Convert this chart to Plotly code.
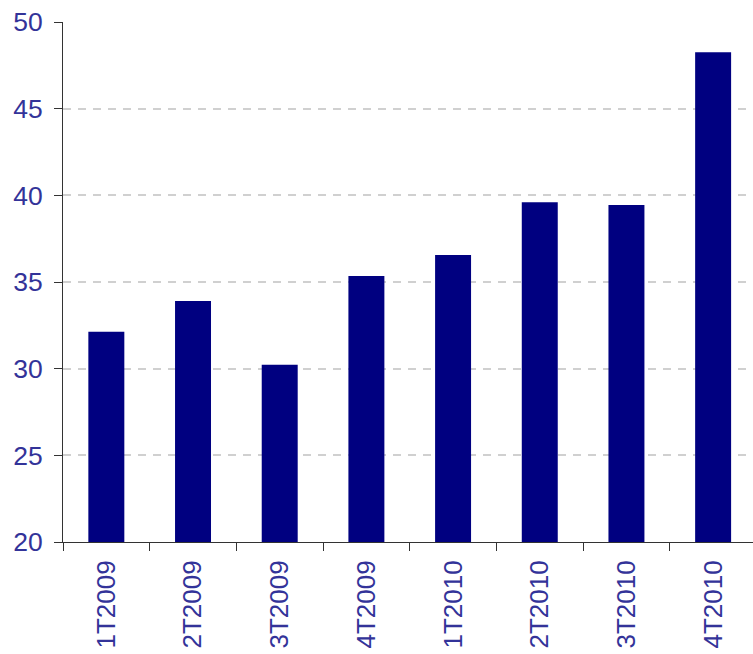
import plotly.graph_objects as go

categories = ["1T2009", "2T2009", "3T2009", "4T2009", "1T2010", "2T2010", "3T2010", "4T2010"]
values = [32.13, 33.91, 30.22, 35.35, 36.56, 39.6, 39.44, 48.25]
y_ticks = [20, 25, 30, 35, 40, 45, 50]

fig = go.Figure(go.Bar(x=categories, y=values, marker=dict(color="#000080", line=dict(width=0))))

yfont = dict(family="Liberation Sans, Arial, sans-serif", size=26.5, color="#333399")
xfont = dict(family="Liberation Sans, Arial, sans-serif", size=26, color="#333399")

fig.update_layout(
    width=753, height=654,
    margin=dict(l=62.5, r=0, t=21.7, b=111.5, pad=0),
    paper_bgcolor="white", plot_bgcolor="white",
    bargap=0.585,
    showlegend=False,
    font=yfont,
)
fig.update_xaxes(
    type="category", range=[-0.5, 7.46], automargin=False,
    tickson="boundaries", ticks="outside", ticklen=8, tickcolor="#333333", tickwidth=1,
    showline=True, linecolor="#333333", linewidth=1,
    tickangle=-90, tickfont=xfont, showgrid=False, ticklabelstandoff=7,
)
fig.update_yaxes(
    range=[20, 50], tickvals=y_ticks, automargin=False,
    ticks="outside", ticklen=8, tickcolor="#333333", tickwidth=1,
    showline=True, linecolor="#333333", linewidth=1,
    showgrid=True, gridcolor="#d0d0d0", gridwidth=1.5, griddash="8px,7px",
    zeroline=False, tickfont=yfont, ticklabelstandoff=6,
)
fig.write_html("out.html")
